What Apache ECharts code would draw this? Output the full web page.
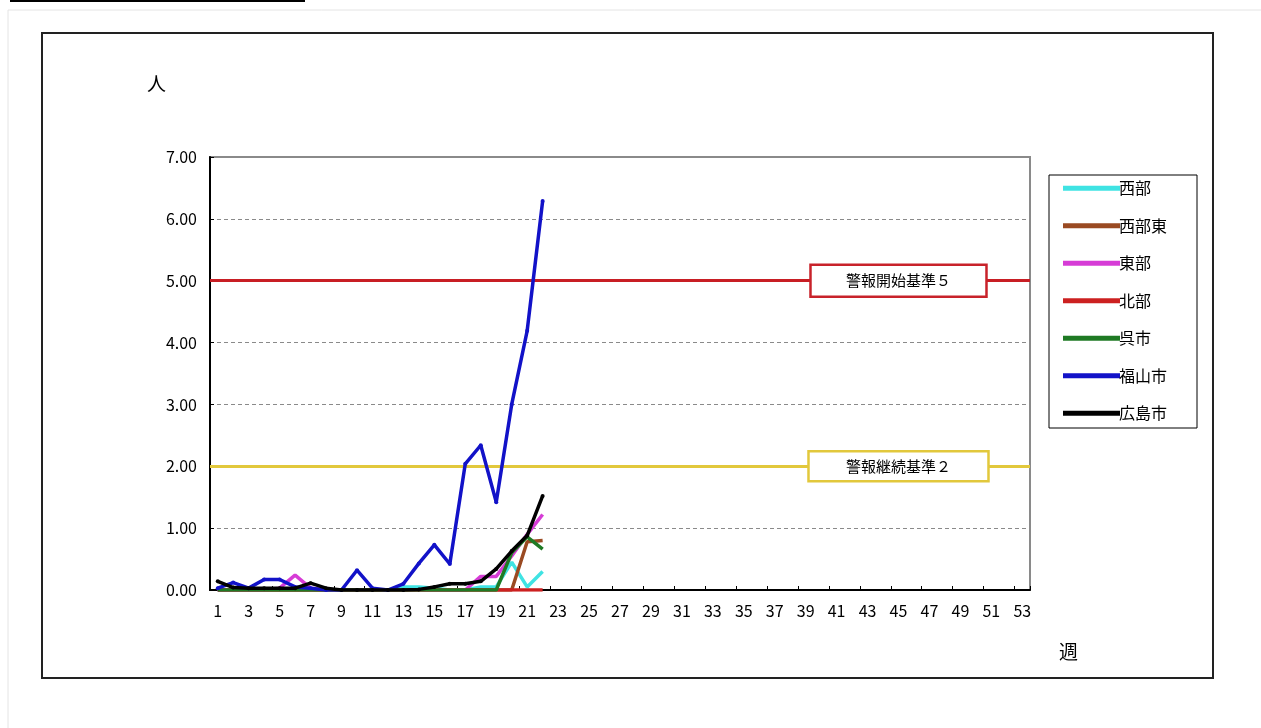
<!DOCTYPE html>
<html><head><meta charset="utf-8">
<script src="https://cdn.jsdelivr.net/npm/echarts@6/dist/echarts.min.js"></script>
<style>html,body{margin:0;padding:0;background:#fff;}#c{width:1261px;height:728px;}</style>
</head><body><div id="c"></div>
<script>
var weeks = [];
for (var w = 1; w <= 53; w++) weeks.push(String(w));
var yTicks = [0, 1, 2, 3, 4, 5, 6, 7];
var seriesNames = ['西部', '西部東', '東部', '北部', '呉市', '福山市', '広島市'];
var seibu      = [0, 0, 0, 0, 0, 0, 0, 0, 0, 0, 0, 0, 0.05, 0.05, 0.03, 0, 0, 0.05, 0.05, 0.45, 0.05, 0.3];
var seibuHigashi = [0, 0, 0, 0, 0, 0, 0, 0, 0, 0, 0, 0, 0, 0, 0, 0, 0, 0, 0, 0, 0.78, 0.8];
var toubu      = [0, 0, 0, 0, 0.03, 0.24, 0.03, 0, 0, 0, 0, 0, 0, 0, 0, 0, 0, 0.22, 0.22, 0.55, 0.9, 1.22];
var hokubu     = [0, 0, 0, 0, 0, 0, 0, 0, 0, 0, 0, 0, 0, 0, 0, 0, 0, 0, 0, 0, 0, 0];
var kureShi    = [0, 0, 0, 0, 0, 0, 0, 0, 0, 0, 0, 0, 0, 0, 0, 0, 0, 0, 0, 0.6, 0.86, 0.66];
var fukuyama   = [0.03, 0.12, 0.03, 0.17, 0.17, 0.05, 0.03, 0, 0, 0.32, 0.03, 0, 0.1, 0.43, 0.73, 0.42, 2.04, 2.34, 1.42, 3.0, 4.19, 6.29];
var hiroshima  = [0.14, 0.04, 0.03, 0.03, 0.03, 0.03, 0.11, 0.03, 0, 0, 0, 0, 0, 0.01, 0.05, 0.1, 0.1, 0.14, 0.34, 0.63, 0.88, 1.52];
var alertStart = 5, alertContinue = 2;
var alertStartLabel = '警報開始基準５', alertContinueLabel = '警報継続基準２';
var labelWeek = '45';

var colors = ['#3fe3e3', '#9a4a22', '#d63cd6', '#cc2020', '#1f7a24', '#1212c8', '#000000'];
var datas = [seibu, seibuHigashi, toubu, hokubu, kureShi, fukuyama, hiroshima];
var FONT = '"Noto Sans CJK JP", "DejaVu Sans", sans-serif';

var series = seriesNames.map(function (n, i) {
  var withSym = (i === 5 || i === 6);
  return {
    name: n, type: 'line', data: datas[i],
    symbol: withSym ? 'circle' : 'none', symbolSize: 4, showSymbol: withSym,
    lineStyle: { color: colors[i], width: 3.5 },
    itemStyle: { color: colors[i] },
    animation: false, z: 3 + i
  };
});
series[0].markLine = {
  silent: true, symbol: 'none', animation: false,
  label: { show: false },
  data: [
    { yAxis: alertStart, lineStyle: { color: '#c81e24', width: 3, type: 'solid' } },
    { yAxis: alertContinue, lineStyle: { color: '#e2c83c', width: 3, type: 'solid' } }
  ]
};

var baseGraphic = [
  { type: 'line', shape: { x1: 10, y1: 1, x2: 305, y2: 1 }, style: { stroke: '#000', lineWidth: 2 }, z: 100 },
  { type: 'line', shape: { x1: 8, y1: 10, x2: 1261, y2: 10 }, style: { stroke: '#e4e4e4', lineWidth: 1 } },
  { type: 'line', shape: { x1: 8, y1: 10, x2: 8, y2: 728 }, style: { stroke: '#e4e4e4', lineWidth: 1 } },
  { type: 'rect', shape: { x: 42, y: 33, width: 1171, height: 645 }, style: { fill: 'none', stroke: '#222', lineWidth: 2 }, z: -1 },
  { type: 'rect', shape: { x: 1049, y: 175, width: 148, height: 253 }, style: { fill: '#fff', stroke: '#000', lineWidth: 1 }, z: -1 },
  { type: 'text', left: 147, top: 74, style: { text: '人', fill: '#000', font: '19px ' + FONT } },
  { type: 'text', left: 1059, top: 642, style: { text: '週', fill: '#000', font: '19px ' + FONT } }
];

var chart = echarts.init(document.getElementById('c'));
chart.setOption({
  backgroundColor: '#fff',
  animation: false,
  textStyle: { fontFamily: FONT },
  grid: { left: 210, right: 231, top: 157, bottom: 138, show: true, borderColor: '#8a8a8a', borderWidth: 2, backgroundColor: '#fff' },
  xAxis: {
    type: 'category', data: weeks, boundaryGap: true,
    axisLine: { lineStyle: { color: '#000', width: 2 } },
    axisTick: { show: true, inside: true, length: 4, lineStyle: { color: '#000' } },
    axisLabel: { interval: 1, color: '#000', fontSize: 16, margin: 13, fontFamily: FONT },
    splitLine: { show: false }
  },
  yAxis: {
    type: 'value', min: yTicks[0], max: yTicks[yTicks.length - 1], interval: 1,
    axisLine: { show: true, lineStyle: { color: '#000', width: 2 } },
    axisTick: { show: true, inside: true, length: 4, lineStyle: { color: '#000' } },
    axisLabel: { color: '#000', fontSize: 16, margin: 13, fontFamily: FONT, formatter: function (v) { return v.toFixed(2); } },
    splitLine: { show: true, lineStyle: { color: '#8a8a8a', type: [4, 3], width: 1 } }
  },
  legend: {
    orient: 'vertical', left: 1058, top: 175,
    itemWidth: 57, itemHeight: 5, itemGap: 21, icon: 'rect',
    textStyle: { color: '#000', fontSize: 16, fontFamily: FONT, lineHeight: 16.5, padding: [0, 0, 0, -6] },
    data: seriesNames
  },
  graphic: baseGraphic,
  series: series
});

function box(week, val, w, h, stroke, text) {
  var p = chart.convertToPixel({ gridIndex: 0 }, [week, val]);
  return {
    type: 'group', x: p[0], y: p[1], z: 200,
    children: [
      { type: 'rect', z: 200, shape: { x: -w / 2, y: -h / 2, width: w, height: h }, style: { fill: '#fff', stroke: stroke, lineWidth: 2.5 } },
      { type: 'text', z: 201, style: { text: text, x: 0, y: 0, align: 'center', verticalAlign: 'middle', fill: '#000', font: '15px ' + FONT } }
    ]
  };
}
chart.setOption({
  graphic: baseGraphic.concat([
    box(labelWeek, alertStart, 176, 32, '#c8222a', alertStartLabel),
    box(labelWeek, alertContinue, 180, 30, '#e2c83c', alertContinueLabel)
  ])
});
</script>
</body></html>
